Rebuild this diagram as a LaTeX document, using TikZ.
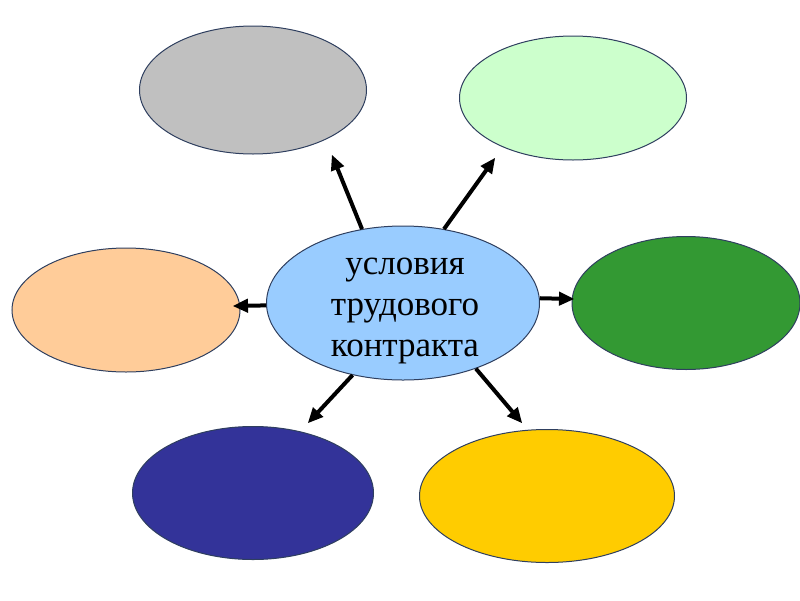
\documentclass[tikz,border=0pt]{standalone}
\usepackage{fontspec}
\setmainfont{Liberation Serif}
\usetikzlibrary{arrows.meta,shapes.geometric}
\definecolor{cgray}{HTML}{C0C0C0}
\definecolor{cmint}{HTML}{CCFFCC}
\definecolor{cpeach}{HTML}{FFCC99}
\definecolor{cgreen}{HTML}{339933}
\definecolor{cnavy}{HTML}{333399}
\definecolor{cyellow}{HTML}{FFCC00}
\definecolor{cblue}{HTML}{99CCFF}
\definecolor{cedge}{HTML}{2F3F5F}
\begin{document}
\begin{tikzpicture}[x=1pt,y=-1pt,
  oval/.style={ellipse, draw=cedge, line width=1pt, inner sep=0pt},
  arr/.style={line width=4pt, -{Triangle[length=15pt, width=14pt, line width=1.5pt, fill=black]}}]
\useasboundingbox (0,0) rectangle (800,600);
\node[oval, fill=cgray, minimum width=227pt, minimum height=128pt] (tl) at (253,90) {};
\node[oval, fill=cmint, minimum width=227pt, minimum height=124pt] (tr) at (573,98) {};
\node[oval, fill=cpeach, minimum width=228pt, minimum height=124pt] (l) at (126,310) {};
\node[oval, fill=cgreen, minimum width=228pt, minimum height=133pt] (r) at (686,303) {};
\node[oval, fill=cnavy, minimum width=241pt, minimum height=133pt] (bl) at (253,493) {};
\node[oval, fill=cyellow, minimum width=255pt, minimum height=133pt] (br) at (547,496) {};
\node[oval, fill=cblue, minimum width=273pt, minimum height=154pt] (c) at (403,303) {};
\node[align=center, font=\fontsize{35}{41}\selectfont] (ct) at (405,311) {условия\\трудового\\контракта};
\coordinate (e1) at (332,155);
\coordinate (e2) at (495,158);
\coordinate (e3) at (233,306);
\coordinate (e4) at (574,299);
\coordinate (e5) at (308,423);
\coordinate (e6) at (522,423);
\draw[arr] (c.119) -- (e1);
\draw[arr] (c.61) -- (e2);
\draw[arr] (c.181) -- (e3);
\draw[arr] (c.2) -- (e4);
\draw[arr] (c.235) -- (e5);
\draw[arr] (c.318) -- (e6);
\end{tikzpicture}
\end{document}
